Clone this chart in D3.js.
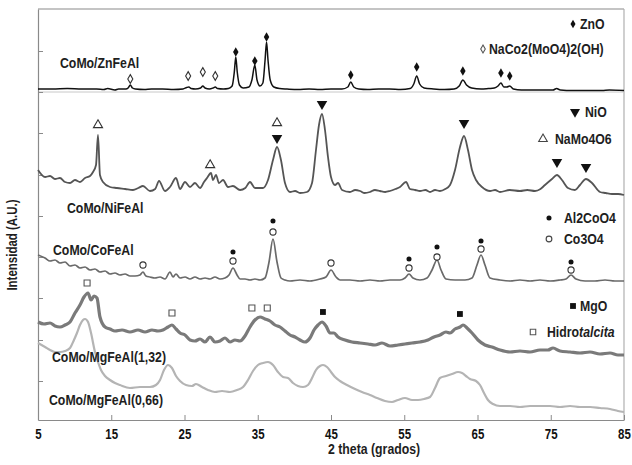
<!DOCTYPE html>
<html><head><meta charset="utf-8">
<script src="https://cdn.jsdelivr.net/npm/d3@7"></script>
<style>
html,body{margin:0;padding:0;background:#fff;}
svg text{font-family:"Liberation Sans",Arial,sans-serif;font-weight:bold;}
</style></head><body>
<script>
// ---- data: [2theta (deg), intensity (A.U., stacked with offset)] ----
const xTicks = [5,15,25,35,45,55,65,75,85];
const yTicks = [39,80,122,163,204,245,287,328,369];

const znFeAl = [[5,331],[7,331],[9,331.5],[11,331],[13,331],[14,330.5],[14.5,331.5],[15.5,330],[16,331],[17,331],[17.3,332],[17.6,335],[17.9,332],[18.3,331],[19.5,330.5],[20.5,331],[22,331],[23.5,330.5],[24.8,331],[25.3,332.5],[25.6,333],[25.9,331.5],[26.5,331],[27.2,332],[27.5,334],[27.8,332],[28.4,331],[28.9,332],[29.2,333],[29.5,331.5],[30.3,331],[31,331.5],[31.5,334],[31.8,348],[32.0,363],[32.2,348],[32.5,335],[33,332],[33.8,333],[34.2,340],[34.6,355],[34.9,340],[35.3,334],[35.7,337],[36.0,360],[36.2,378],[36.4,360],[36.7,340],[37.2,333],[38,331.5],[39,331],[40.5,330.5],[42,331],[43.5,330.5],[45,331],[46.5,331],[47.3,333],[47.7,338],[48.1,333],[48.8,331],[50,330.5],[51.5,331],[53,331],[54.5,330.5],[55.8,331.5],[56.3,336],[56.7,344],[57.1,336],[57.7,332],[59,331],[60.5,330.5],[61.8,331],[62.5,334],[63.0,340],[63.5,335],[64.2,332],[65.5,331],[66.5,331.5],[67.3,332],[67.8,334],[68.2,337],[68.6,333],[69.0,333],[69.4,334],[69.9,331],[71,330],[72.5,330],[74,330],[75.3,330],[75.8,331.5],[76.3,330],[78,329.5],[80,329.5],[82,329.5],[83,330],[85,329.5]];

const niFeAl = [[5,250],[5.96,243],[6.64,244],[7.32,241],[8.0,242],[8.69,238],[9.37,237],[10.05,240],[10.73,238],[11.42,242],[12.1,244],[12.51,248],[12.92,255],[13.19,285],[13.46,245],[13.87,238],[14.83,233],[15.78,232],[16.9,231],[17.97,230],[18.7,232],[19.33,234],[20.29,229],[21.0,231],[21.52,239],[22.34,229],[23.02,233],[23.84,242],[24.39,231],[25.07,238],[25.75,233],[26.43,237],[27.12,232],[27.66,238],[28.07,242],[28.62,247],[28.89,240],[29.3,245],[29.71,237],[30.26,240],[30.94,233],[31.62,234],[32.58,230],[33.3,232],[33.94,238],[34.62,232],[35.72,232],[36.4,240],[37.08,260],[37.63,273],[38.17,260],[38.72,237],[39.4,228],[40.1,229],[40.77,227],[41.72,228],[42.41,237],[42.95,270],[43.36,295],[43.77,306],[44.18,290],[44.59,263],[45.0,243],[45.55,235],[45.96,237],[46.5,230],[47.59,228],[48.3,230],[48.96,229],[49.6,227],[50.32,228],[51.0,230],[51.69,229],[52.4,228],[53.05,229],[53.8,231],[54.42,233],[55.24,238],[55.78,231],[56.5,230],[57.15,229],[57.9,230],[58.52,228],[59.2,230],[59.88,229],[60.6,231],[61.25,235],[61.93,250],[62.61,273],[63.16,284],[63.7,270],[64.25,250],[64.8,240],[65.61,233],[66.71,229],[67.4,230],[68.07,228],[69.4,230],[70.8,229],[71.8,230],[72.85,229],[73.6,231],[74.21,235],[75.17,241],[75.85,245],[76.53,240],[77.35,232],[78.31,230],[78.99,235],[79.81,241],[80.63,237],[81.72,228],[82.5,227],[83.36,226],[84.2,226],[85,225]];

const coFeAl = [[5,165],[5.96,162],[6.64,159],[7.32,160],[8.0,157],[8.69,158],[9.37,154],[10.05,155],[10.73,152],[11.42,153],[12.1,150],[12.78,151],[13.46,148],[14.15,149],[14.83,146],[15.51,147],[16.19,145],[16.88,146],[17.56,144],[18.24,144],[18.92,145],[19.33,148],[19.74,144],[20.29,143],[20.97,142],[21.66,143],[22.34,141],[23.02,148],[23.43,143],[23.84,146],[24.39,142],[25.07,143],[25.75,141],[26.43,143],[27.12,141],[27.8,142],[28.48,141],[29.16,143],[29.85,141],[30.53,142],[31.08,145],[31.62,152],[32.17,145],[32.58,141],[33.26,141],[33.94,140],[34.62,141],[35.31,140],[35.99,142],[36.54,158],[37.08,181],[37.63,158],[38.17,142],[38.72,140],[39.4,139],[40.77,140],[42.13,139],[43.5,141],[44.32,143],[45.0,150],[45.69,143],[46.23,140],[47.59,140],[48.96,139],[50.32,140],[51.69,139],[53.05,140],[54.42,140],[55.1,142],[55.65,146],[56.19,142],[57.15,140],[58.11,142],[58.79,150],[59.47,160],[60.02,150],[60.7,141],[61.93,140],[63.29,140],[64.25,142],[64.93,155],[65.48,165],[66.02,155],[66.71,142],[68.07,140],[69.44,139],[70.8,140],[72.17,139],[73.53,140],[74.9,139],[76.26,140],[77.08,141],[77.77,145],[78.45,141],[79.68,139],[81.04,139],[82.41,140],[83.77,139],[85,139]];

const mgFeAl132 = [[5,98],[5.82,96],[6.64,97],[7.32,94],[8.0,93],[8.69,95],[9.37,98],[10.05,107],[10.73,115],[11.28,123],[11.83,127],[12.24,120],[12.65,124],[13.05,122],[13.46,103],[14.15,93],[14.83,91],[15.51,89],[16.47,90],[17.56,88],[18.65,90],[19.61,88],[20.56,90],[21.38,89],[22.06,90],[22.75,93],[23.29,95],[23.84,91],[24.39,87],[25.07,85],[25.75,80],[26.43,79],[27.12,81],[27.8,78],[28.48,83],[29.16,78],[29.85,79],[30.53,82],[31.21,78],[31.89,80],[32.58,79],[33.26,84],[33.94,93],[34.62,100],[35.31,103],[35.99,101],[36.67,99],[37.35,95],[38.04,93],[38.72,89],[39.4,85],[40.09,83],[40.77,80],[41.45,78],[42.13,82],[42.68,90],[43.23,95],[43.77,98],[44.32,94],[44.86,87],[45.41,87],[45.96,83],[46.91,80],[47.87,78],[48.96,77],[50.05,76],[51.01,75],[51.96,77],[53.05,74],[54.15,75],[55.1,76],[56.06,77],[57.15,78],[58.24,80],[59.06,83],[59.88,85],[60.7,88],[61.25,87],[61.93,91],[62.61,93],[63.02,95],[63.57,92],[64.25,87],[65.07,80],[66.02,75],[66.98,73],[68.07,70],[69.44,68],[70.8,69],[72.17,68],[73.53,70],[74.62,70],[75.31,72],[76.26,69],[77.63,68],[78.99,67],[80.36,68],[81.72,66],[83.09,67],[84.18,65],[85,65]];

const mgFeAl066 = [[5,77],[5.96,73],[6.64,70],[7.32,68],[8.0,68],[8.69,69],[9.37,72],[9.91,80],[10.32,87],[10.73,95],[11.14,100],[11.42,101],[11.83,98],[12.24,87],[12.78,68],[13.19,58],[13.6,50],[14.15,44],[14.83,40],[15.51,37],[16.19,35],[17.56,32],[18.92,33],[20.29,33],[21.11,35],[21.66,40],[22.2,50],[22.75,55],[23.29,52],[23.84,44],[24.39,39],[25.2,35],[26.02,34],[26.57,36],[27.39,33],[28.21,30],[29.16,28],[30.12,29],[31.21,28],[32.17,30],[32.99,33],[33.67,40],[34.35,49],[35.03,55],[35.72,57],[36.4,58],[37.08,55],[37.76,48],[38.45,43],[39.13,42],[39.81,37],[40.49,34],[41.18,33],[41.86,35],[42.41,42],[42.95,50],[43.5,54],[43.91,55],[44.45,53],[45.0,48],[45.55,43],[46.23,39],[47.18,35],[48.28,31],[49.23,28],[50.32,25],[51.28,22],[52.37,19],[53.33,18],[54.15,20],[55.1,22],[56.06,20],[56.88,20],[57.7,21],[58.52,23],[59.2,32],[59.88,42],[60.7,44],[61.52,46],[62.34,48],[62.89,47],[63.43,44],[63.98,41],[64.8,39],[65.34,35],[65.89,27],[66.43,20],[67.12,16],[68.07,14],[69.44,14],[70.8,13],[72.17,14],[73.53,14],[74.9,14],[76.26,13],[77.63,14],[78.99,13],[80.36,13],[81.72,12],[83.09,11],[84.18,9],[85,8]];

// phase markers [2theta, intensity]
const znoMarks = [[32.0,368],[34.6,359],[36.2,383],[47.7,345],[56.7,353],[63.0,349],[68.2,347],[69.4,344]];
const naCoMarks = [[17.6,341],[25.5,344],[27.5,348],[29.2,344]];
const nioMarks = [[37.63,282],[43.77,316],[63.16,297],[75.85,258],[79.81,253]];
const naMoMarks = [[13.19,295],[28.5,255],[37.63,297]];
const co3o4Marks = [[19.33,155],[31.62,159],[37.08,188],[45.0,157],[55.65,152],[59.47,163],[65.48,171],[77.77,150]];
const al2coMarks = [[31.62,168],[37.08,199],[55.65,161],[59.47,173],[65.48,179],[77.77,158]];
const htMarks = [[11.7,137],[23.29,107],[34.2,112],[36.3,112]];
const mgoMarks = [[43.9,108],[62.6,106]];

const seriesNames = ["CoMo/ZnFeAl","CoMo/NiFeAl","CoMo/CoFeAl","CoMo/MgFeAl(1,32)","CoMo/MgFeAl(0,66)"];
const phaseNames = ["ZnO","NaCo2(MoO4)2(OH)","NiO","NaMo4O6","Al2CoO4","Co3O4","MgO","Hidrotalcita"];

// ---- drawing ----
const W=632,H=465, NARROW=0.82;
const svg=d3.select("body").append("svg").attr("width",W).attr("height",H);
const x=d3.scaleLinear().domain([5,85]).range([38,624]);
const y=d3.scaleLinear().domain([0,411]).range([420,9]);

const frameColor="#8a8a8a";
svg.append("line").attr("x1",x(5)).attr("x2",x(85)).attr("y1",y(411)).attr("y2",y(411)).attr("stroke",frameColor).attr("stroke-width",1.2);
svg.append("line").attr("x1",x(85)).attr("x2",x(85)).attr("y1",y(411)).attr("y2",y(0)).attr("stroke","#b0b0b0").attr("stroke-width",1.2);
svg.append("line").attr("x1",x(5)).attr("x2",x(85)).attr("y1",y(328)).attr("y2",y(328)).attr("stroke","#c8c8c8").attr("stroke-width",1);

const xa=svg.append("g").attr("transform",`translate(0,${y(0)})`)
  .call(d3.axisBottom(x).tickValues(xTicks).tickSizeInner(-5).tickSizeOuter(0).tickPadding(9).tickFormat(d3.format("d")));
xa.select(".domain").attr("stroke",frameColor).attr("stroke-width",1.2);
xa.selectAll(".tick line").attr("stroke",frameColor);
xa.selectAll("text").attr("font-size",14).attr("fill","#111").attr("dy","0.72em")
  .attr("transform",`scale(${NARROW},1)`);

const ya=svg.append("g").attr("transform",`translate(${x(5)},0)`)
  .call(d3.axisLeft(y).tickValues(yTicks).tickSizeInner(-5).tickSizeOuter(0).tickFormat(""));
ya.select(".domain").attr("stroke",frameColor).attr("stroke-width",1.2);
ya.selectAll(".tick line").attr("stroke",frameColor);

const line=d3.line().x(d=>x(d[0])).y(d=>y(d[1])).curve(d3.curveMonotoneX);
const traces=[
  {d:mgFeAl066,c:"#b4b4b4",w:2.2},
  {d:mgFeAl132,c:"#7a7a7a",w:3.2},
  {d:coFeAl,c:"#6a6a6a",w:1.7},
  {d:niFeAl,c:"#555",w:1.8},
  {d:znFeAl,c:"#111",w:1.5}
];
traces.forEach(t=>svg.append("path").attr("d",line(t.d)).attr("fill","none").attr("stroke",t.c).attr("stroke-width",t.w).attr("stroke-linejoin","round"));

function marks(data,type,size,fill,stroke,rot){
  const sym=d3.symbol().type(type).size(size);
  svg.append("g").selectAll("path").data(data).join("path")
    .attr("d",sym).attr("transform",d=>`translate(${x(d[0])},${y(d[1])}) rotate(${rot||0})`)
    .attr("fill",fill).attr("stroke",stroke).attr("stroke-width",stroke==="none"?0:1.1);
}
marks(znoMarks,d3.symbolDiamond,26,"#111","none");
marks(naCoMarks,d3.symbolDiamond,22,"#fff","#333");
marks(nioMarks,d3.symbolTriangle,48,"#111","none",180);
marks(naMoMarks,d3.symbolTriangle,36,"#fff","#333");
marks(co3o4Marks,d3.symbolCircle,30,"#fff","#333");
marks(al2coMarks,d3.symbolCircle,20,"#111","none");
marks(htMarks,d3.symbolSquare,36,"#fff","#555");
marks(mgoMarks,d3.symbolSquare,34,"#111","none");

// narrow text helper (condensed look)
function ntext(px,py,size,str,anchor,rot){
  return svg.append("text")
    .attr("transform",`translate(${px},${py}) rotate(${rot||0}) scale(${NARROW},1)`)
    .attr("text-anchor",anchor||"start").attr("font-size",size).attr("fill","#1e1e1e").text(str);
}

function legendItem(px,py,tx,type,size,fill,stroke,rot,label,italicPart){
  svg.append("path").attr("d",d3.symbol().type(type).size(size)())
    .attr("transform",`translate(${px},${py}) rotate(${rot||0})`)
    .attr("fill",fill).attr("stroke",stroke).attr("stroke-width",stroke==="none"?0:1.1);
  const t=ntext(tx,py+5,15,label);
  if(italicPart) t.append("tspan").attr("font-style","italic").text(italicPart);
}
legendItem(573,24,580,d3.symbolDiamond,22,"#111","none",0,phaseNames[0]);
legendItem(483,49,489,d3.symbolDiamond,18,"#fff","#555",0,phaseNames[1]);
legendItem(575,112,585,d3.symbolTriangle,44,"#111","none",180,phaseNames[2]);
legendItem(543,139,555,d3.symbolTriangle,32,"#fff","#444",0,phaseNames[3]);
legendItem(549,218,564,d3.symbolCircle,20,"#111","none",0,phaseNames[4]);
legendItem(549,239,564,d3.symbolCircle,26,"#fff","#444",0,phaseNames[5]);
legendItem(573,306,580,d3.symbolSquare,34,"#111","none",0,phaseNames[6]);
legendItem(533,332,547,d3.symbolSquare,30,"#fff","#555",0,"Hidro","talcita");

const labelPos=[[60,68],[67,213],[53,255],[52,362],[49,405]];
seriesNames.forEach((s,i)=>ntext(labelPos[i][0],labelPos[i][1],15,s));

ntext(17,245,14,"Intensidad (A.U.)","middle",-90);
ntext(328,454,15,"2 theta (grados)");
</script>
</body></html>
